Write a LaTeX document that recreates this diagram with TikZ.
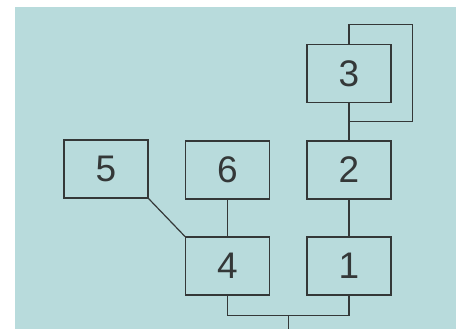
\documentclass[tikz,border=0pt]{standalone}
\usepackage{fontspec}
\setmainfont{Liberation Sans}
\usepackage{tikz}
\usetikzlibrary{calc}
\definecolor{panel}{RGB}{184,219,220}
\definecolor{ink}{RGB}{52,56,56}
\tikzstyle{block} = [rectangle, minimum width=84pt, minimum height=58pt, text centered, draw=ink, line width=1.2pt, text=ink, font=\fontsize{37}{37}\selectfont, inner sep=0pt]
\tikzstyle{wire} = [draw=ink, line width=1.2pt]

\begin{document}
\begin{tikzpicture}[node distance=96pt]
        \useasboundingbox (0,0) rectangle (456pt,-329pt);
        \fill [panel] (15pt,-7pt) rectangle (456pt,-329pt);

        \node (three) [block] at (349pt,-73.5pt) {3};
        \node (two) [block, below of=three, yshift=-0.5pt] {2};
        \node (one) [block, below of=two] {1};
        \node (six) [block, left of=two, xshift=-25.5pt] {6};
        \node (four) [block, below of=six] {4};
        \node (five) [block, left of=six, xshift=-25.5pt, yshift=1pt] {5};

        \coordinate (mid) at ($(three.south)!0.5!(two.north)$);
        \coordinate (loop) at ([shift={(21pt,19pt)}]three.north east);
        \coordinate (join) at ($(four.south)!0.5!(one.south)+(0,-20pt)$);
        \coordinate (exit) at ($(join)+(0,-20pt)$);

        \draw [wire] (three) -- (two);
        \draw [wire] (three.north) |- (loop) |- (mid);
        \draw [wire] (two) -- (one);
        \draw [wire] (six) -- (four);
        \draw [wire] (five.south east) -- (four.north west);
        \draw [wire] (four.south) |- (join) -| (one.south);
        \draw [wire] (join) -- (exit);
\end{tikzpicture}
\end{document}
